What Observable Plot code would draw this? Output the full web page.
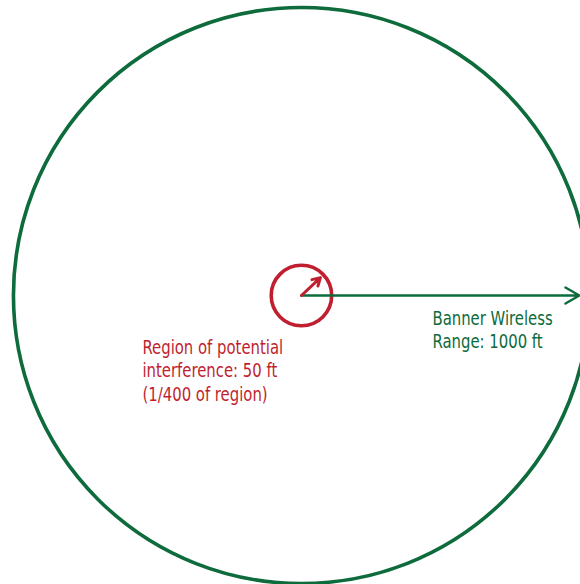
<!DOCTYPE html>
<html>
<head>
<meta charset="utf-8">
<script src="https://cdn.jsdelivr.net/npm/d3@7"></script>
<script src="https://cdn.jsdelivr.net/npm/@observablehq/plot@0.6"></script>
<style>
  html, body { margin: 0; padding: 0; background: #fff; }
  #chart svg { display: block; }
</style>
</head>
<body>
<div id="chart"></div>
<script>
// Data (units: feet, schematic — the small circle is enlarged for visibility)
const circleNames = ["Banner Wireless Range", "Region of potential interference"];
const circleRadii = [1000, 105];          // drawn radius in chart units
const circleColors = ["#0d6b3c", "#c01f30"];
const rangeLabel = ["Banner Wireless", "Range: 1000 ft"];
const interferenceLabel = ["Region of potential", "interference: 50 ft", "(1/400 of region)"];

const circles = circleNames.map((name, i) => ({name, r: circleRadii[i], color: circleColors[i], x: 0, y: 0}));

const green = circleColors[0], red = circleColors[1];
const font = "'Liberation Sans Narrow', 'Arial Narrow', 'DejaVu Sans Condensed', sans-serif";

const plot = Plot.plot({
  width: 580,
  height: 584,
  margin: 0,
  x: {domain: [-1045, 969], axis: null},
  y: {domain: [-1003, 1024], axis: null},
  r: {type: "linear", domain: [0, 1000], range: [0, 288]},
  style: {fontFamily: font, background: "#fff"},
  marks: [
    Plot.dot(circles, {x: "x", y: "y", r: "r", stroke: d => d.color, strokeWidth: 3.6, fill: "none"}),
    Plot.arrow([{x1: 0, y1: 0, x2: 965, y2: 0}], {x1: "x1", y1: "y1", x2: "x2", y2: "y2", stroke: green, strokeWidth: 2.4, headLength: 10}),
    Plot.arrow([{x1: 0, y1: 0, x2: 66, y2: 62}], {x1: "x1", y1: "y1", x2: "x2", y2: "y2", stroke: red, strokeWidth: 3, headLength: 11, headAngle: 60}),
    Plot.text([rangeLabel.join("\n")], {x: 455, y: -44, text: d => d, textAnchor: "start", lineAnchor: "top", fill: green, fontSize: 19, lineHeight: 1.21}),
    Plot.text([interferenceLabel.join("\n")], {x: -552, y: -145, text: d => d, textAnchor: "start", lineAnchor: "top", fill: red, fontSize: 19, lineHeight: 1.23})
  ]
});
// condense the fallback font horizontally to match the narrow face of the original
plot.querySelectorAll("g[aria-label='text'] text").forEach(t => {
  const tr = t.getAttribute("transform") || "";
  t.setAttribute("transform", tr + " scale(0.87,1)");
});
document.getElementById("chart").appendChild(plot);
</script>
</body>
</html>
